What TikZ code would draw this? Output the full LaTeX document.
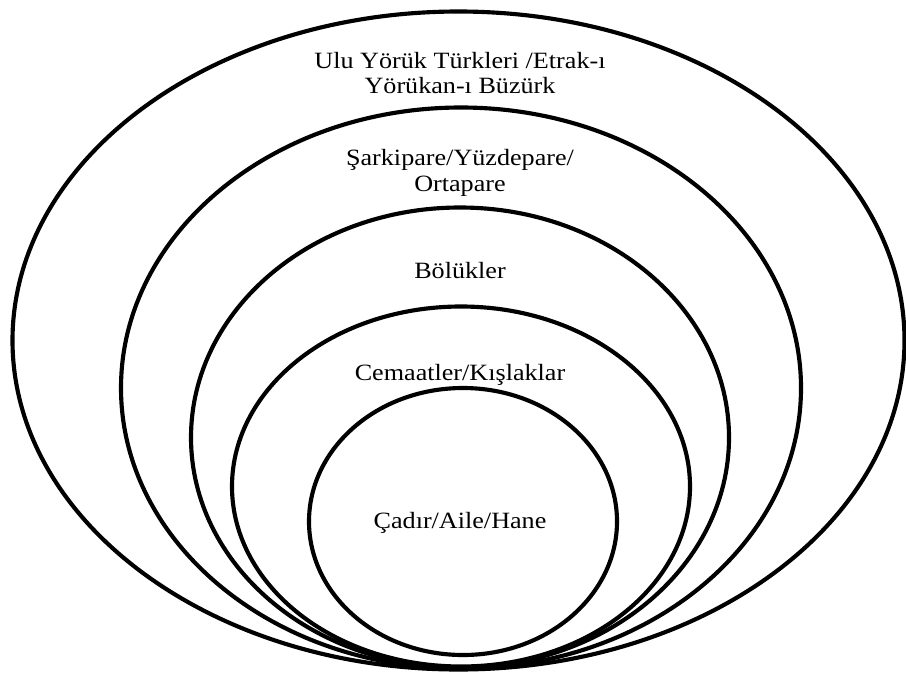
\documentclass[tikz,border=0pt]{standalone}
\usepackage{fontspec}
\setmainfont{Liberation Serif}[FakeStretch=1.12]
\begin{document}
\begin{tikzpicture}[x=0.75pt, y=-0.75pt,
  ring/.style={line width=3.1pt},
  lab/.style={font=\fontsize{17.5}{19}\selectfont, align=center, inner sep=0pt}]
\useasboundingbox (0,0) rectangle (906,675);
% rings, outer to inner
\draw[ring] (458.5,340.5) ellipse [x radius=446, y radius=329];
\draw[ring] (461,388) ellipse [x radius=340, y radius=280.5];
\draw[ring] (460,437.5) ellipse [x radius=269, y radius=230];
\draw[ring] (461,486.5) ellipse [x radius=229, y radius=180];
\draw[ring] (463,521.5) ellipse [x radius=154, y radius=133.5];
% labels
\node[lab] (ulu) at (460,73) {Ulu Yörük Türkleri /Etrak-ı\\Yörükan-ı Büzürk};
\node[lab] (pare) at (460,173) {Şarkipare/Yüzdepare/\\Ortapare};
\node[lab, anchor=base] (boluk) at (460,278) {Bölükler};
\node[lab, anchor=base] (cemaat) at (460,380) {Cemaatler/Kışlaklar};
\node[lab, anchor=base] (cadir) at (460,528) {Çadır/Aile/Hane};
\end{tikzpicture}
\end{document}
